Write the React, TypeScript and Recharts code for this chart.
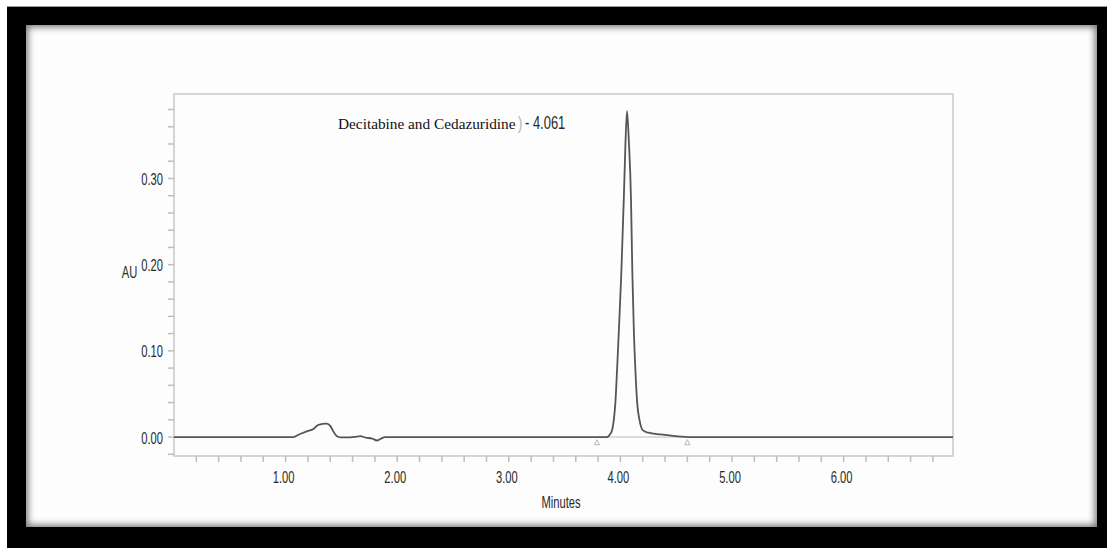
import React from 'react';
import {
  ComposedChart,
  Line,
  XAxis,
  YAxis,
  ReferenceArea,
  ReferenceLine,
  ReferenceDot,
} from 'recharts';

// Retention time (minutes) and detector response (AU)
const times = [
  0, 1.07, 1.12, 1.19, 1.25, 1.29, 1.33, 1.37, 1.4, 1.43, 1.46, 1.5, 1.56, 1.62, 1.67,
  1.72, 1.77, 1.82, 1.86, 1.89, 2.5, 3.0, 3.5, 3.8, 3.88, 3.9, 3.925, 3.94, 3.955, 3.97,
  3.99, 4.008, 4.03, 4.045, 4.059, 4.075, 4.095, 4.107, 4.12, 4.134, 4.15, 4.172, 4.2,
  4.25, 4.36, 4.5, 4.63, 5.5, 6.98,
];
const au = [
  0, 0, 0.003, 0.0066, 0.0093, 0.014, 0.0152, 0.0156, 0.013, 0.006, 0.001, -0.0005,
  -0.0005, 0.0003, 0.001, -0.0008, -0.0015, -0.004, -0.0015, 0, 0, 0, 0, 0, 0, 0.002,
  0.008, 0.019, 0.04, 0.078, 0.135, 0.19, 0.275, 0.34, 0.378, 0.345, 0.275, 0.19, 0.125,
  0.078, 0.04, 0.019, 0.008, 0.005, 0.003, 0.001, 0, 0, 0,
];

// Integration markers (peak start / end)
const markerTimes = [3.79, 4.6];
const markerLevel = -0.006;

// Axis ticks
const xTicks = [
  0.2, 0.4, 0.6, 0.8, 1.0, 1.2, 1.4, 1.6, 1.8, 2.0, 2.2, 2.4, 2.6, 2.8, 3.0, 3.2, 3.4,
  3.6, 3.8, 4.0, 4.2, 4.4, 4.6, 4.8, 5.0, 5.2, 5.4, 5.6, 5.8, 6.0, 6.2, 6.4, 6.6, 6.8,
];
const xLabelTicks = [1, 2, 3, 4, 5, 6];
const yTicks = [
  -0.02, 0, 0.02, 0.04, 0.06, 0.08, 0.1, 0.12, 0.14, 0.16, 0.18, 0.2, 0.22, 0.24, 0.26,
  0.28, 0.3, 0.32, 0.34, 0.36, 0.38,
];
const yLabelTicks = [0, 0.1, 0.2, 0.3];

const xDomain = [0, 6.98];
const yDomain = [-0.022, 0.398];

const peakName = 'Decitabine and Cedazuridine';
const peakRt = '4.061';

const data = times.map((t, i) => ({ t, au: au[i] }));

const SANS = '"Liberation Sans", Arial, sans-serif';
const SERIF = '"Liberation Serif", "Times New Roman", serif';
const TXT = '#2a2a2a';

const isIn = (v: number, arr: number[]) => arr.some((a) => Math.abs(a - v) < 1e-6);

const XTick = (props: any) => {
  const { x, y, payload } = props;
  if (!isIn(payload.value, xLabelTicks)) return <g />;
  return (
    <g transform={`translate(${x - 2},${y}) scale(0.7,1)`}>
      <text x={0} y={19} textAnchor="middle" fontSize={16} fontFamily={SANS} fill={TXT}>
        {payload.value.toFixed(2)}
      </text>
    </g>
  );
};

const YTick = (props: any) => {
  const { x, y, payload } = props;
  if (!isIn(payload.value, yLabelTicks)) return <g />;
  return (
    <g transform={`translate(${x},${y}) scale(0.7,1)`}>
      <text x={0} y={6.5} textAnchor="end" fontSize={16} fontFamily={SANS} fill={TXT}>
        {Math.abs(payload.value).toFixed(2)}
      </text>
    </g>
  );
};

const Triangle = (props: any) => {
  const { cx, cy } = props;
  return (
    <path
      d={`M${cx - 2.5},${cy + 2.5} L${cx},${cy - 2.5} L${cx + 2.5},${cy + 2.5} Z`}
      fill="none"
      stroke="#b8b8b8"
      strokeWidth={1}
    />
  );
};

export default function App() {
  return (
    <div style={{ position: 'fixed', left: 0, top: 0, width: 1107, height: 548, background: '#fff', overflow: 'hidden' }}>
      {/* black photo frame */}
      <div style={{ position: 'absolute', left: 7, top: 6, width: 1100, height: 542, background: '#000', borderTop: '1px solid #9a9a9a' }} />
      <div
        style={{
          position: 'absolute',
          left: 26,
          top: 25,
          width: 1071,
          height: 502,
          background: '#fdfdfd',
          boxShadow: 'inset 0 0 7px 2px rgba(0,0,0,0.55)',
        }}
      />
      <div style={{ position: 'absolute', left: 0, top: 0 }}>
        <ComposedChart
          width={1107}
          height={548}
          data={data}
          margin={{ top: 94, right: 154, bottom: 52, left: 114 }}
        >
          <XAxis
            dataKey="t"
            type="number"
            domain={xDomain}
            ticks={xTicks}
            allowDataOverflow
            axisLine={false}
            tickLine={{ stroke: '#bdbdbd', strokeWidth: 1.5 }}
            tickSize={6}
            tickMargin={2}
            height={40}
            interval={0}
            tick={<XTick />}
          />
          <YAxis
            type="number"
            domain={yDomain}
            ticks={yTicks}
            allowDataOverflow
            axisLine={false}
            tickLine={{ stroke: '#bdbdbd', strokeWidth: 1.5 }}
            tickSize={6}
            tickMargin={5}
            width={60}
            interval={0}
            tick={<YTick />}
          />
          <ReferenceArea
            x1={xDomain[0]}
            x2={xDomain[1]}
            y1={yDomain[0]}
            y2={yDomain[1]}
            fill="none"
            fillOpacity={0}
            stroke="#c8c8c8"
            strokeWidth={1.5}
          />
          <ReferenceLine
            segment={[
              { x: markerTimes[0], y: 0 },
              { x: markerTimes[1], y: 0 },
            ]}
            stroke="#dcdcdc"
            strokeWidth={2}
          />
          {markerTimes.map((m) => (
            <ReferenceDot key={m} x={m} y={markerLevel} r={3} shape={<Triangle />} />
          ))}
          <Line
            type="monotone"
            dataKey="au"
            stroke="#555"
            strokeWidth={1.8}
            dot={false}
            isAnimationActive={false}
          />
        </ComposedChart>
      </div>
      <svg
        width={1107}
        height={548}
        style={{ position: 'absolute', left: 0, top: 0, pointerEvents: 'none' }}
      >
        <g transform="translate(129.5,277.5) scale(0.7,1)">
          <text x={0} y={0} textAnchor="middle" fontSize={16} fontFamily={SANS} fill={TXT}>
            AU
          </text>
        </g>
        <g transform="translate(561,508) scale(0.7,1)">
          <text x={0} y={0} textAnchor="middle" fontSize={16} fontFamily={SANS} fill={TXT}>
            Minutes
          </text>
        </g>
        <text x={338} y={128.5} fontSize={15.3} fontFamily={SERIF} fill="#111">
          {peakName}
        </text>
        <g transform="translate(518,128.5) scale(0.7,1)">
          <text x={0} y={0} fontSize={18.5} fontFamily={SANS} fill="#b0b0b0">
            )
          </text>
        </g>
        <g transform="translate(525,128.5) scale(0.7,1)">
          <text x={0} y={0} fontSize={18.5} fontFamily={SANS} fill={TXT}>
            {`- ${peakRt}`}
          </text>
        </g>
      </svg>
    </div>
  );
}
